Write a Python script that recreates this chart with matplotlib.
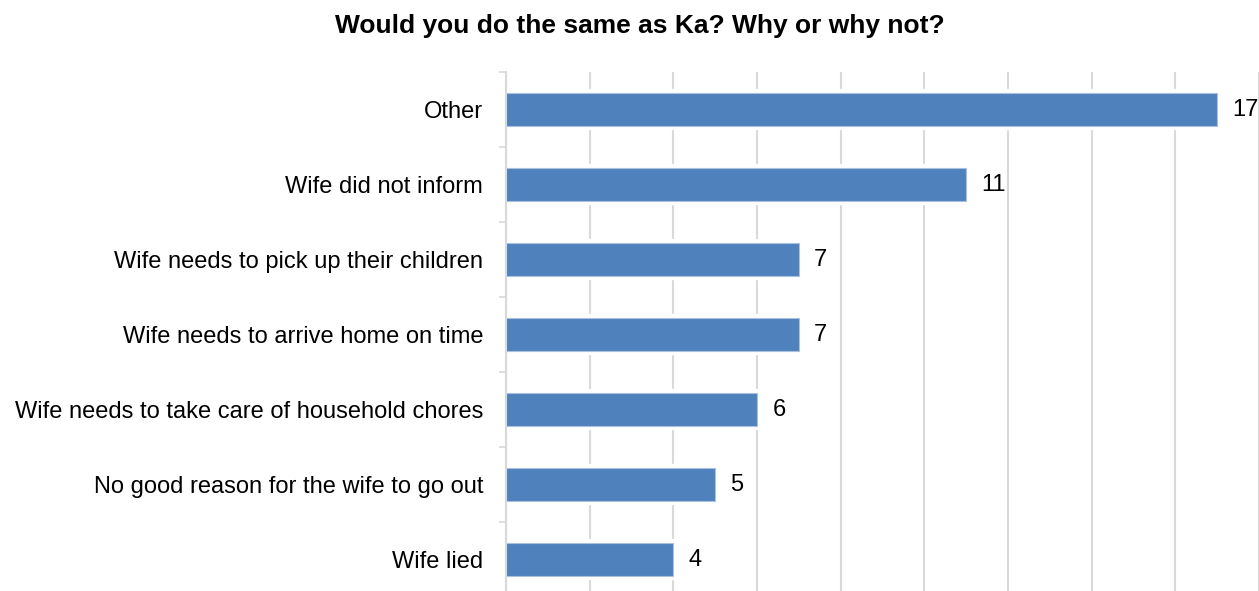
import numpy as np
import matplotlib
matplotlib.use("Agg")
from matplotlib import pyplot as plt
from matplotlib.ticker import MultipleLocator, FixedLocator

plt.rcParams["font.family"] = ["Liberation Sans", "DejaVu Sans"]

title = "Would you do the same as Ka? Why or why not?"
reasons = [
    "Other",
    "Wife did not inform",
    "Wife needs to pick up their children",
    "Wife needs to arrive home on time",
    "Wife needs to take care of household chores",
    "No good reason for the wife to go out",
    "Wife lied",
]
counts = [17, 11, 7, 7, 6, 5, 4]

bar_color = "#4f81bd"
grid_color = "#d9d9d9"

fig = plt.figure(figsize=(12.59, 5.91), dpi=100)
ax = fig.add_axes([506 / 1259, -6 / 591, 753 / 1259, 525 / 591])

y = np.arange(len(reasons))
# white halo first so the gridlines break around each bar
ax.barh(y, counts, height=0.44, color="white", edgecolor="white", linewidth=6, zorder=1)
ax.barh(y, counts, height=0.44, color=bar_color, edgecolor="#a9c1df", linewidth=0.8, zorder=2)

for yi, c in zip(y, counts):
    ax.annotate(str(c), (c, yi), xytext=(11, 0), textcoords="offset points",
                va="center", ha="left", fontsize=17, color="black", clip_on=False)

ax.set_xlim(0, 18)
ax.set_ylim(len(reasons) - 0.5, -0.5)
ax.xaxis.set_major_locator(MultipleLocator(2))
ax.set_xticklabels([])
ax.tick_params(axis="x", length=0)
ax.grid(axis="x", color=grid_color, linewidth=1.5)
ax.set_axisbelow(True)

ax.set_yticks(y)
ax.set_yticklabels(reasons, fontsize=17)
ax.tick_params(axis="y", which="major", length=0, pad=16.5)
ax.yaxis.set_minor_locator(FixedLocator(np.arange(len(reasons) + 1) - 0.5))
ax.tick_params(axis="y", which="minor", length=5, width=1.2, color=grid_color)

for side in ["top", "right", "bottom"]:
    ax.spines[side].set_visible(False)
ax.spines["left"].set_color(grid_color)
ax.spines["left"].set_linewidth(1.5)

fig.text(640 / 1259, 1 - 26 / 591, title, ha="center", va="center",
         fontsize=19, fontweight="bold")

fig.savefig("out.png", dpi=100)
